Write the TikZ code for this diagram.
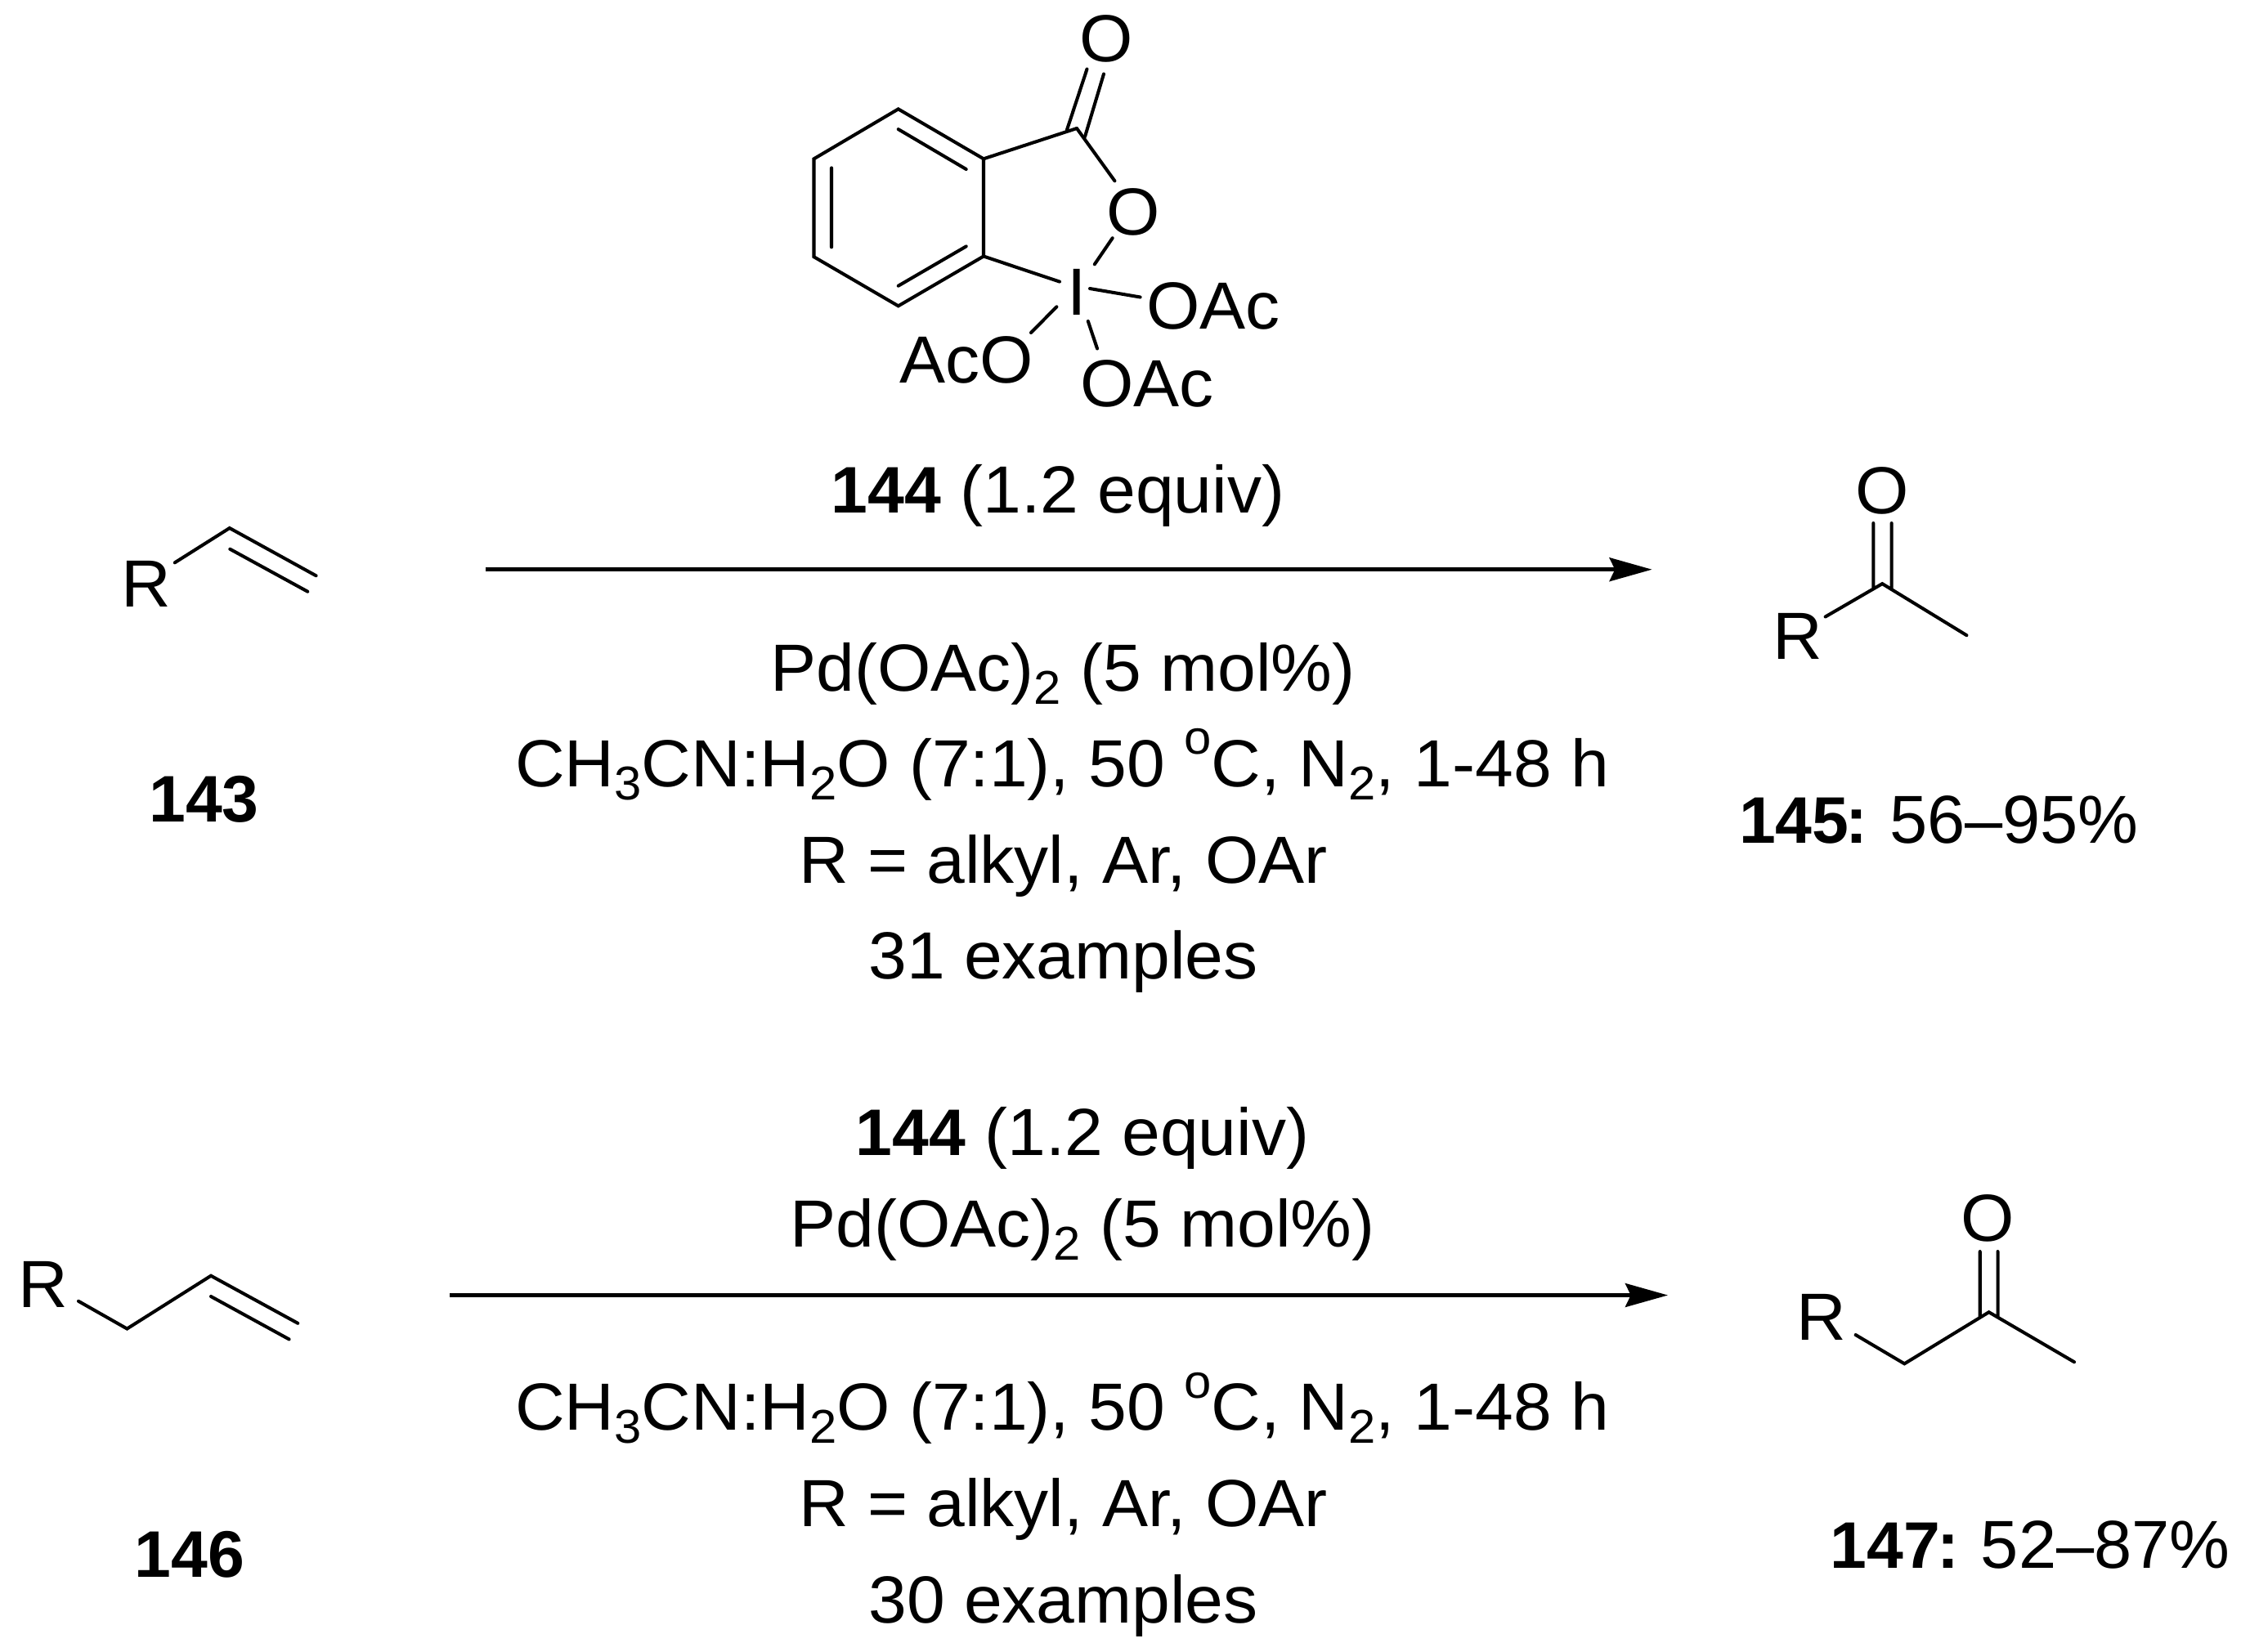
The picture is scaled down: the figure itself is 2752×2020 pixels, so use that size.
\documentclass[tikz,border=0pt]{standalone}
\usepackage{fontspec}
\setmainfont{Liberation Sans}[FakeStretch=1.03]
\newfontfamily\numf{Liberation Sans}[BoldFont={Liberation Sans Bold}]
\usetikzlibrary{arrows.meta}
\newcommand{\sbs}[1]{\raisebox{-0.2em}{\fontsize{16.5}{16.5}\selectfont #1}}
\newcommand{\sps}[1]{\raisebox{0.48em}{\fontsize{16.5}{16.5}\selectfont #1}}
\newcommand{\nmb}[1]{{\fontsize{22.9}{27}\selectfont\numf\bfseries #1}}
\newcommand{\yld}[1]{{\fontsize{23.6}{27}\selectfont\numf #1}}
\tikzset{
  bond/.style={line width=1.15pt,line cap=round,line join=miter,black},
  lbl/.style={inner sep=0pt,outer sep=0pt,font=\fontsize{23.2}{27}\selectfont,text=black},
  txt/.style={lbl,anchor=base},
  rxn/.style={line width=1.3pt,black,-{Stealth[length=14.8pt,width=8.2pt,inset=1.9pt]}}
}
\begin{document}
\begin{tikzpicture}[x=0.01cm,y=-0.01cm]
\useasboundingbox (0,0) rectangle (2752,2020);
% reagent 144
\coordinate (b1) at (1098.7,133.4);
\coordinate (b2) at (1203,194.3);
\coordinate (b3) at (1203,313.5);
\coordinate (b4) at (1098.7,374.3);
\coordinate (b5) at (995.5,314.2);
\coordinate (b6) at (995.5,194.3);
\coordinate (cc) at (1317,157);
\draw[bond] (b1)--(b2)--(b3)--(b4)--(b5)--(b6)--cycle;
\draw[bond] (b2)--(cc);
\coordinate (i1a) at (1098.7,158.1); \coordinate (i1b) at (1181.7,207);
\coordinate (i2a) at (1098.7,349.7); \coordinate (i2b) at (1181.7,301.4);
\coordinate (i3a) at (1017,205.4);  \coordinate (i3b) at (1017,302.4);
\draw[bond] (i1a)--(i1b) (i2a)--(i2b) (i3a)--(i3b);
\node[lbl] (oTop) at (1353,47.5) {O};
\node[lbl] (oRing) at (1386.6,259.5) {O};
\node[lbl] (iod) at (1317,357) {I};
\node[lbl,anchor=west] (oacR) at (1402,374) {OAc};
\node[lbl,anchor=west] (oacB) at (1321,469) {OAc};
\node[lbl,anchor=east] (acoL) at (1264,440.5) {AcO};
\coordinate (d1a) at (1305,158.8); \coordinate (d1b) at (1329.5,84.5);
\coordinate (d2a) at (1327,167.2); \coordinate (d2b) at (1350,90.5);
\draw[bond] (d1a)--(d1b) (d2a)--(d2b);
\coordinate (co) at (1363.4,221.3);
\draw[bond] (cc)--(co);
\coordinate (oi1) at (1360.7,291.2); \coordinate (oi2) at (1338.8,323.3);
\draw[bond] (oi1)--(oi2);
\coordinate (ai) at (1296,344.6);
\draw[bond] (b3)--(ai);
\coordinate (r1) at (1333,353); \coordinate (r2) at (1394.6,363.5);
\draw[bond] (r1)--(r2);
\coordinate (l1) at (1330.8,392.9); \coordinate (l2) at (1342,426.4);
\draw[bond] (l1)--(l2);
\coordinate (k1) at (1292.4,375.3); \coordinate (k2) at (1261,407);
\draw[bond] (k1)--(k2);
% 143
\node[lbl,anchor=west] (r143) at (148,714) {R};
\coordinate (a1) at (213.8,688.3); \coordinate (a2) at (280.8,646); \coordinate (a3) at (386.6,704.3);
\coordinate (a4) at (281.3,671.7); \coordinate (a5) at (376.3,723.7);
\draw[bond] (a1)--(a2)--(a3) (a4)--(a5);
\node[txt] (n143) at (249.5,1005) {\nmb{143}};
% arrow 1
\coordinate (s1) at (593.8,696.7); \coordinate (e1) at (2020.6,696.7);
\draw[rxn] (s1)--(e1);
\node[txt] (t1) at (1294,627) {\nmb{144} (1.2 equiv)};
\node[txt] (t2) at (1300,845) {Pd(OAc)\sbs{2} (5 mol\%)};
\node[txt] (t3) at (1299,962) {CH\sbs{3}CN:H\sbs{2}O (7:1), 50 \sps{o}C, N\sbs{2}, 1-48 h};
\node[txt] (t4) at (1300.5,1080) {R = alkyl, Ar, OAr};
\node[txt] (t5) at (1300.5,1197) {31 examples};
% 145
\node[lbl] (o145) at (2302.2,600) {O};
\node[lbl,anchor=west] (r145) at (2168,778) {R};
\coordinate (c1) at (2302.2,714.1); \coordinate (c2) at (2232.6,754.5); \coordinate (c3) at (2405.4,777.2);
\coordinate (c4) at (2291.3,640); \coordinate (c5) at (2291.3,719.3);
\coordinate (c6) at (2313.6,640); \coordinate (c7) at (2313.6,721);
\draw[bond] (c2)--(c1)--(c3) (c4)--(c5) (c6)--(c7);
\node[lbl,anchor=base west] (y145) at (2127,1031) {\nmb{145\kern-0.05em:}\kern-0.05em{} \yld{56–95\%}};
% 146
\node[lbl,anchor=west] (r146) at (22,1571) {R};
\coordinate (f1) at (96,1591.8); \coordinate (f2) at (155.4,1625.5); \coordinate (f3) at (258,1560.7); \coordinate (f4) at (364.3,1618.8);
\coordinate (f5) at (258,1586); \coordinate (f6) at (353.6,1638.4);
\draw[bond] (f1)--(f2)--(f3)--(f4) (f5)--(f6);
\node[txt] (n146) at (231.7,1929.6) {\nmb{146}};
% arrow 2
\coordinate (s2) at (550,1584.5); \coordinate (e2) at (2040,1584.5);
\draw[rxn] (s2)--(e2);
\node[txt] (u1) at (1324,1413) {\nmb{144} (1.2 equiv)};
\node[txt] (u2) at (1324,1525) {Pd(OAc)\sbs{2} (5 mol\%)};
\node[txt] (u3) at (1299,1749.5) {CH\sbs{3}CN:H\sbs{2}O (7:1), 50 \sps{o}C, N\sbs{2}, 1-48 h};
\node[txt] (u4) at (1300.5,1867.5) {R = alkyl, Ar, OAr};
\node[txt] (u5) at (1300.5,1985.5) {30 examples};
% 147
\node[lbl] (o147) at (2431.5,1490.5) {O};
\node[lbl,anchor=west] (r147) at (2197,1611.5) {R};
\coordinate (g1) at (2269.6,1633); \coordinate (g2) at (2329.3,1668.3); \coordinate (g3) at (2432.6,1605.2); \coordinate (g4) at (2537,1666.2);
\coordinate (g5) at (2421.7,1531); \coordinate (g6) at (2421.7,1611.4);
\coordinate (g7) at (2443.5,1531); \coordinate (g8) at (2443.5,1611.4);
\draw[bond] (g1)--(g2)--(g3)--(g4) (g5)--(g6) (g7)--(g8);
\node[lbl,anchor=base west] (y147) at (2238.7,1918.5) {\nmb{147\kern-0.05em:}\kern-0.05em{} \yld{52–87\%}};
\end{tikzpicture}
\end{document}
